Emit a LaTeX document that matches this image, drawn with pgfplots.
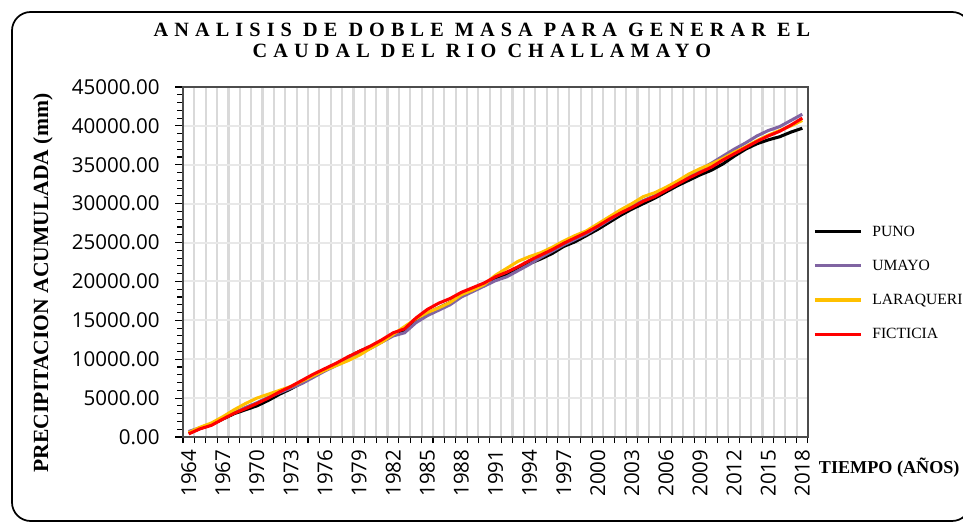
\documentclass[border=0pt]{standalone}
\usepackage{fontspec}
\usepackage{pgfplots}
\pgfplotsset{compat=1.18}
\setmainfont{Liberation Serif}
\newfontfamily\tickfont{Open Sans}
\newfontfamily\titlefont[LetterSpace=30]{Liberation Serif}

\definecolor{umayo}{HTML}{8064A2}
\definecolor{laraq}{HTML}{FFC000}
\definecolor{fict}{HTML}{FF0000}
\definecolor{vgrid}{HTML}{D9D9D9}
\definecolor{hgrid}{HTML}{E8E8E8}

% accumulated precipitation, one row per year
\pgfplotstableread{
year puno umayo laraq fict
1964 500 700 550 400
1965 1100 1200 1250 1050
1966 1600 1650 1800 1500
1967 2300 2400 2600 2300
1968 3000 3100 3500 3050
1969 3500 3800 4300 3650
1970 4000 4400 5000 4300
1971 4700 5100 5500 5000
1972 5500 5700 6000 5800
1973 6200 6300 6500 6500
1974 7000 6900 7200 7300
1975 7900 7700 7900 8100
1976 8700 8500 8600 8800
1977 9400 9200 9200 9500
1978 10200 9900 9800 10300
1979 11000 10700 10500 11000
1980 11600 11400 11400 11700
1981 12300 12200 12200 12500
1982 13100 13000 13200 13400
1983 13600 13400 14200 13900
1984 15000 14700 15200 15300
1985 15900 15600 16000 16400
1986 16600 16300 16600 17200
1987 17300 17000 17300 17800
1988 18200 18000 18300 18600
1989 18900 18700 18900 19200
1990 19500 19400 19600 19800
1991 20300 20100 20800 20600
1992 20800 20600 21700 21200
1993 21600 21400 22600 21900
1994 22300 22200 23200 22700
1995 22900 23100 23700 23400
1996 23600 23900 24400 24100
1997 24500 24700 25200 24900
1998 25100 25400 25900 25600
1999 25900 26100 26500 26300
2000 26700 27000 27400 27100
2001 27600 27900 28300 28000
2002 28500 28800 29200 28800
2003 29300 29700 30000 29500
2004 30000 30400 30900 30300
2005 30700 31000 31400 30900
2006 31500 31800 32100 31700
2007 32300 32700 32900 32500
2008 33000 33600 33800 33300
2009 33700 34400 34500 34000
2010 34300 35200 35100 34700
2011 35100 36100 35800 35600
2012 36100 37000 36600 36400
2013 37000 37800 37300 37200
2014 37700 38700 38100 38000
2015 38200 39400 38800 38700
2016 38600 39900 39400 39300
2017 39200 40700 40000 40100
2018 39700 41500 40700 41000
}\datatable

\begin{document}
\begin{tikzpicture}
\useasboundingbox (0,0) rectangle (722.25pt,393.75pt);
\draw[line width=1.3pt, rounded corners=14pt] (9pt,3pt) rectangle (728pt,384.75pt);

\node[font=\titlefont\bfseries\fontsize{15.2}{16}\selectfont, anchor=base]
  at (361.5pt,366pt) {ANALISIS DE DOBLE MASA PARA GENERAR EL};
\node[font=\titlefont\bfseries\fontsize{15.2}{16}\selectfont, anchor=base]
  at (361.5pt,350.25pt) {CAUDAL DEL RIO CHALLAMAYO};

\node[font=\bfseries\fontsize{16.2}{18}\selectfont, rotate=90]
  at (32.25pt,181.5pt) {PRECIPITACION ACUMULADA (mm)};
\node[font=\bfseries\fontsize{13.6}{15}\selectfont, anchor=west, inner sep=0pt]
  at (614pt,42.75pt) {TIEMPO (AÑOS)};

\begin{axis}[
  at={(137.25pt,66pt)}, anchor=south west,
  scale only axis, width=468.75pt, height=262.5pt,
  xmin=1963.5, xmax=2018.5, ymin=0, ymax=45000,
  xtick={1964,1967,...,2018},
  minor xtick={1963.5,1964.5,...,2018.5},
  ytick={0,5000,...,45000},
  minor ytick={1000,2000,...,44000},
  scaled y ticks=false,
  major x tick style={draw=none},
  tick align=outside, tick pos=left,
  major tick length=6pt, minor tick length=4.5pt,
  every tick/.style={black, line width=0.8pt},
  minor x grid style={vgrid, line width=1.6pt},
  xminorgrids=true,
  ymajorgrids=true,
  major y grid style={hgrid, line width=1.5pt},
  axis line style={draw=black!70, line width=0.9pt},
  /pgf/number format/assume math mode=true,
  /pgf/number format/1000 sep={},
  ticklabel style={font=\tickfont\fontsize{15.4}{16}\selectfont},
  xticklabel style={rotate=90, anchor=east},
  yticklabel style={/pgf/number format/fixed, /pgf/number format/fixed zerofill,
    /pgf/number format/precision=2, xshift=-8pt},
  legend cell align=left,
  legend style={draw=none, fill=none, at={(1.008,0.612)}, anchor=north west,
    font=\fontsize{11.7}{13}\selectfont, row sep=12.3pt, inner sep=0pt,
    nodes={inner xsep=7pt}},
  legend image code/.code={\draw[#1] (0pt,0pt) -- (35pt,0pt);},
  clip=false,
]
\addplot[black, line width=2.3pt] table[x=year, y=puno] {\datatable};
\addlegendentry{PUNO}
\addplot[umayo, line width=2.3pt] table[x=year, y=umayo] {\datatable};
\addlegendentry{UMAYO}
\addplot[laraq, line width=2.3pt] table[x=year, y=laraq] {\datatable};
\addlegendentry{LARAQUERI}
\addplot[fict, line width=2.3pt] table[x=year, y=fict] {\datatable};
\addlegendentry{FICTICIA}
\end{axis}
\end{tikzpicture}
\end{document}
